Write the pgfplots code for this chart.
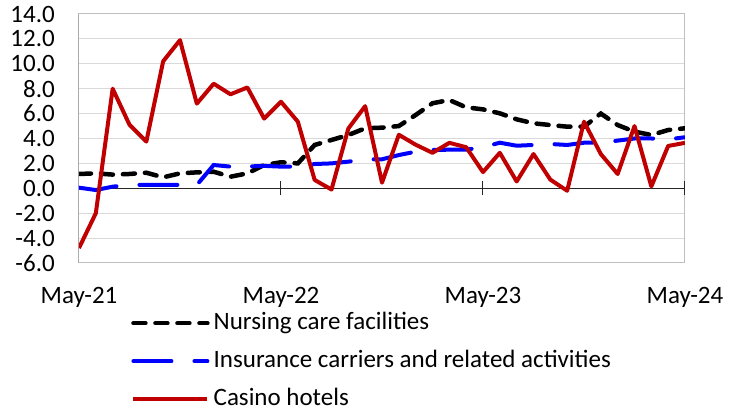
\documentclass[border=0pt]{standalone}
\usepackage{fontspec}
\setmainfont{Carlito}
\usepackage{pgfplots}
\pgfplotsset{compat=1.18}
\definecolor{casino}{RGB}{192,0,0}
\definecolor{ins}{RGB}{0,0,255}
\definecolor{gridc}{RGB}{217,217,217}
\definecolor{framec}{RGB}{191,191,191}
\begin{document}
\begin{tikzpicture}
\path[use as bounding box] (0,0) rectangle (737pt,411pt);
\begin{axis}[
  scale only axis, width=606pt, height=249pt,
  at={(79pt,148pt)}, anchor=south west,
  xmin=0, xmax=36, ymin=-6, ymax=14,
  xtick={0,12,24,36}, xticklabels={May-21,May-22,May-23,May-24},
  ytick={-6,-4,...,14},
  ymajorgrids, grid style={draw=gridc, line width=1pt},
  axis line style={draw=framec, line width=1pt},
  tick style={draw=none},
  /pgf/number format/.cd, fixed, fixed zerofill, precision=1, assume math mode=true,
  /pgfplots/.cd,
  ticklabel style={font=\fontsize{25pt}{29pt}\selectfont},
  yticklabel style={anchor=east, inner sep=0pt, xshift=-24pt},
  xticklabel style={anchor=base, inner sep=0pt, yshift=-41pt},
  legend style={at={(axis description cs:0.0858,-0.1887)}, anchor=north west,
    draw=none, fill=none, inner sep=0pt, row sep=12pt, column sep=2pt,
    nodes={inner sep=2pt, text height=17pt, text depth=5pt},
    font=\fontsize{25pt}{29pt}\selectfont},
  legend cell align=left,
  legend image code/.code={\draw[#1] (0pt,0pt) -- (74pt,0pt);},
]
\draw[black!85, line width=1pt] (rel axis cs:0,0) -- (rel axis cs:0,1);
\draw[black!85, line width=1pt] (axis cs:0,0) -- (axis cs:36,0);
\draw[black!85, line width=1pt] (axis cs:12,-0.56) -- (axis cs:12,0.56);
\draw[black!85, line width=1pt] (axis cs:24,-0.56) -- (axis cs:24,0.56);
\draw[black!85, line width=1pt] (axis cs:36,-0.56) -- (axis cs:36,0.56);
\addplot[black, line width=4.5pt, line cap=round, dash pattern=on 12pt off 10pt] coordinates {
(0,1.15)(1,1.2)(2,1.1)(3,1.15)(4,1.25)(5,0.88)(6,1.2)(7,1.28)(8,1.33)(9,0.93)
(10,1.2)(11,1.87)(12,2.09)(13,2.0)(14,3.48)(15,3.88)(16,4.28)(17,4.82)(18,4.87)(19,5.0)
(20,5.89)(21,6.83)(22,7.09)(23,6.5)(24,6.34)(25,6.02)(26,5.54)(27,5.22)(28,5.08)(29,4.95)
(30,4.95)(31,6.0)(32,5.08)(33,4.55)(34,4.28)(35,4.68)(36,4.82)};
\addlegendentry{Nursing care facilities}
\addplot[ins, line width=4pt, line cap=round, dash pattern=on 38pt off 23pt] coordinates {
(0,0.05)(1,-0.14)(2,0.13)(3,0.27)(4,0.27)(5,0.27)(6,0.27)(7,0.27)(8,1.87)(9,1.74)
(10,1.75)(11,1.8)(12,1.74)(13,1.74)(14,1.95)(15,2.0)(16,2.14)(17,2.33)(18,2.33)(19,2.67)
(20,2.94)(21,3.08)(22,3.1)(23,3.1)(24,3.3)(25,3.66)(26,3.42)(27,3.48)(28,3.56)(29,3.48)
(30,3.66)(31,3.66)(32,3.83)(33,4.0)(34,4.0)(35,3.93)(36,4.1)};
\addlegendentry{Insurance carriers and related activities}
\addplot[casino, line width=4pt, line join=round] coordinates {
(0,-4.8)(1,-2.0)(2,8.0)(3,5.1)(4,3.75)(5,10.2)(6,11.9)(7,6.8)(8,8.4)(9,7.55)
(10,8.1)(11,5.6)(12,6.95)(13,5.35)(14,0.67)(15,-0.1)(16,4.8)(17,6.6)(18,0.45)(19,4.3)
(20,3.5)(21,2.85)(22,3.65)(23,3.3)(24,1.3)(25,2.85)(26,0.55)(27,2.75)(28,0.7)(29,-0.2)
(30,5.35)(31,2.75)(32,1.15)(33,5.0)(34,0.15)(35,3.4)(36,3.65)};
\addlegendentry{Casino hotels}
\end{axis}
\end{tikzpicture}
\end{document}
